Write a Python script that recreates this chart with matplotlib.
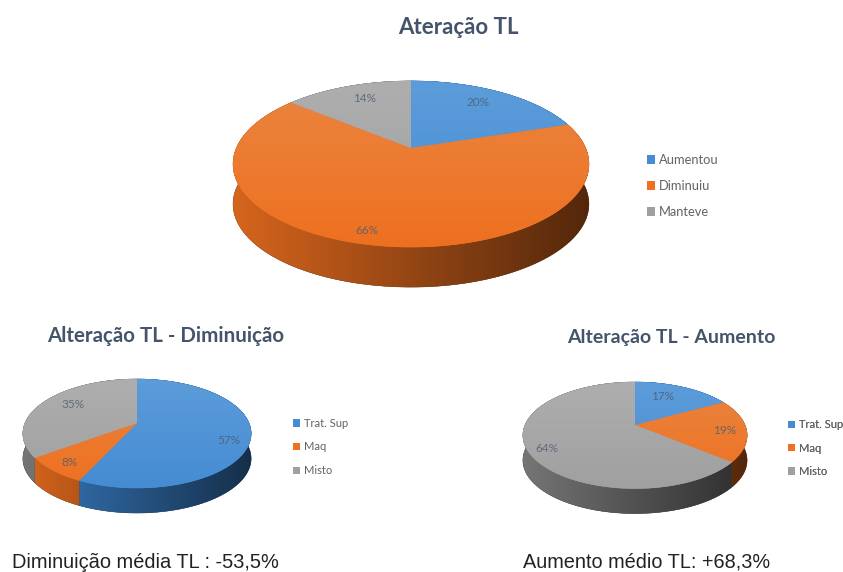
import numpy as np
import matplotlib
matplotlib.use("Agg")
import matplotlib.pyplot as plt
from matplotlib.colors import to_rgb, LinearSegmentedColormap
from matplotlib.patches import Patch, Polygon

main_title = "Ateração TL"
left_title = "Alteração TL - Diminuição"
right_title = "Alteração TL - Aumento"

main_labels = ["Aumentou", "Diminuiu", "Manteve"]
main_values = [20, 66, 14]
sub_labels = ["Trat. Sup", "Maq", "Misto"]
left_values = [57, 8, 35]
right_values = [17, 19, 64]

left_note = "Diminuição média TL : -53,5%"
right_note = "Aumento médio TL: +68,3%"

# top of slice, bottom of slice, side wall
BLUE = ("#5c9cda", "#458cd3", "#3d86d2")
ORANGE = ("#ea8540", "#ee7020", "#ee7020")
GRAY = ("#aeaeae", "#a0a0a0", "#828282")
COLORS = [BLUE, ORANGE, GRAY]
TITLE_COLOR = "#44546a"
TEXT_COLOR = "#636363"
PCT_COLOR = "#4d5c72"
TILT = 0.193

plt.rcParams["font.family"] = ["Lato", "DejaVu Sans"]

fig = plt.figure(figsize=(8.43, 5.72), dpi=100)
ax = fig.add_axes([0, 0, 1, 1])
ax.set_xlim(0, 843)
ax.set_ylim(572, 0)
ax.axis("off")


def project(t, cx, cy, a, b):
    # t = clockwise angle from 12 o'clock, with a bit of perspective
    x, y = np.sin(t), np.cos(t)
    w = 1 + TILT * y
    return cx + a * x / w, cy - b * y / w


def shaded(pts, c1, c2, grad, extent, z):
    # polygon filled with a gradient image
    clip = Polygon(pts, closed=True, facecolor=c2, edgecolor=c2, linewidth=0.3, zorder=z)
    ax.add_patch(clip)
    cmap = LinearSegmentedColormap.from_list("g", [c1, c2])
    im = ax.imshow(grad, cmap=cmap, aspect="auto", extent=extent, zorder=z + 0.5)
    im.set_clip_path(clip)


def draw_pie(values, cx, cy, a, b, depth, label_pos):
    edges = np.cumsum([0] + list(values)) / sum(values) * 2 * np.pi
    xmin, xmax = cx - a * 1.02, cx + a * 1.02
    ytop, ybot = project(0, cx, cy, a, b)[1], project(np.pi, cx, cy, a, b)[1]
    across = np.linspace(0, 1, 128).reshape(1, -1)
    down = np.linspace(0, 1, 64).reshape(-1, 1)

    # side wall first, the top surface then covers what is behind
    for i, col in enumerate(COLORS):
        ts = np.linspace(edges[i], edges[i + 1], 200)
        xs, ys = project(ts, cx, cy, a, b)
        pts = list(zip(xs, ys)) + list(zip(xs[::-1], ys[::-1] + depth))
        base = np.array(to_rgb(col[2]))
        shaded(pts, base * 0.9, base * 0.35, across,
               [xmin, xmax, ybot + depth, ytop], 2)

    for i, col in enumerate(COLORS):
        ts = np.linspace(edges[i], edges[i + 1], 200)
        xs, ys = project(ts, cx, cy, a, b)
        pts = [(cx, cy)] + list(zip(xs, ys))
        shaded(pts, col[0], col[1], down, [xmin, xmax, ybot, ytop], 4)

    for v, (lx, ly) in zip(values, label_pos):
        ax.text(lx, ly, f"{v}%", fontsize=8.5, color=PCT_COLOR, alpha=0.8,
                ha="center", va="center", zorder=6)


def add_legend(labels, x, y, size, spacing):
    handles = [Patch(facecolor=c[1], edgecolor="none") for c in COLORS]
    leg = ax.legend(handles, labels, loc="center left", bbox_to_anchor=(x, y),
                    bbox_transform=ax.transData, frameon=False, fontsize=size,
                    labelcolor=TEXT_COLOR, handlelength=0.65, handleheight=0.65,
                    handletextpad=0.3, labelspacing=spacing, borderpad=0, borderaxespad=0)
    ax.add_artist(leg)


draw_pie(main_values, 411, 148, 174.6, 80, 40, [(478, 102), (367, 231), (365, 99)])
draw_pie(left_values, 137, 423, 112, 52.5, 25, [(229, 441), (69, 462), (73, 404)])
draw_pie(right_values, 635, 425, 110, 51.3, 25, [(663, 397), (725, 430), (547, 449)])

add_legend(main_labels, 647, 186, 9.3, 1.1)
add_legend(sub_labels, 293, 447, 8, 1.15)
add_legend(sub_labels, 788, 448, 8, 1.1)

ax.text(458, 28, main_title, fontsize=16, fontweight="bold", color=TITLE_COLOR,
        ha="center", va="center")
ax.text(166, 336, left_title, fontsize=14.8, fontweight="bold", color=TITLE_COLOR,
        ha="center", va="center")
ax.text(671, 338, right_title, fontsize=14, fontweight="bold", color=TITLE_COLOR,
        ha="center", va="center")

ax.text(12, 562, left_note, fontsize=14.4, color="#222222", family="Liberation Sans",
        ha="left", va="center")
ax.text(523, 562, right_note, fontsize=14.3, color="#222222", family="Liberation Sans",
        ha="left", va="center")

ax.set_xlim(0, 843)
ax.set_ylim(572, 0)
fig.savefig("out.png", dpi=100, facecolor="white")
